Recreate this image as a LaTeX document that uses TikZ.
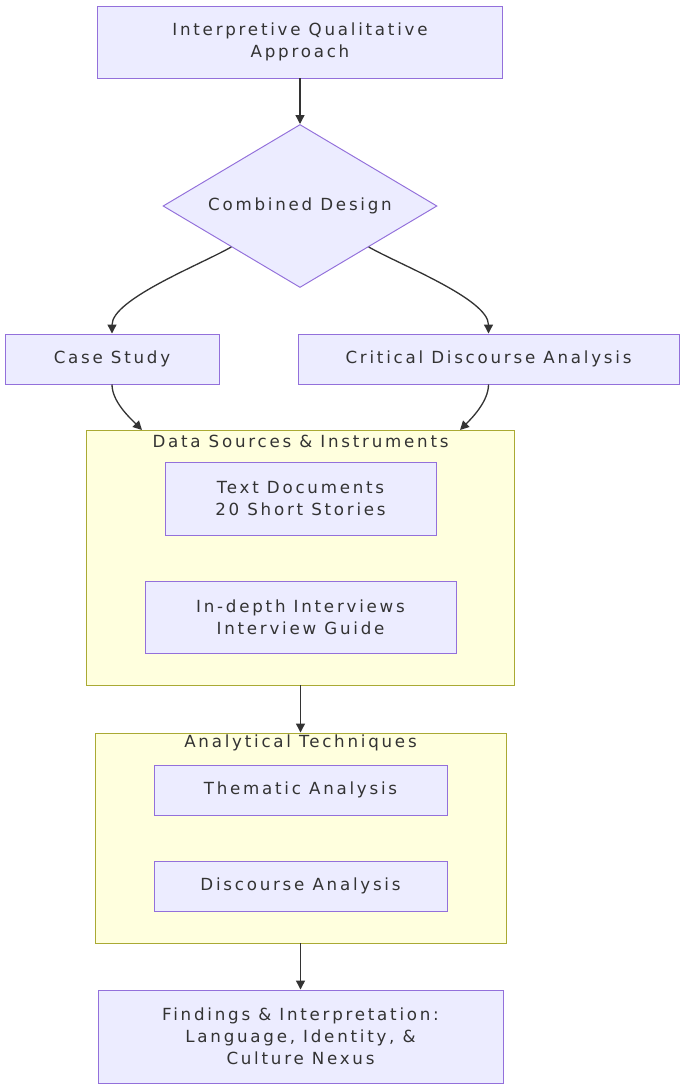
\documentclass[tikz,border=0pt]{standalone}
\usepackage{fontspec}
\setmainfont{DejaVu Sans}[LetterSpace=16.5]
\usetikzlibrary{arrows.meta,shapes.geometric}

\definecolor{nodefill}{HTML}{ECECFF}
\definecolor{nodeline}{HTML}{9370DB}
\definecolor{clusterfill}{HTML}{FFFFDE}
\definecolor{clusterline}{HTML}{AAAA33}
\definecolor{inktext}{HTML}{333333}

\begin{document}
\begin{tikzpicture}[
    font=\fontsize{19pt}{25pt}\selectfont,
    pbase/.style    = {line width=1.1pt, inner sep=0pt, text=inktext,
                       align=center},
    pnode/.style    = {pbase, rectangle, draw=nodeline, fill=nodefill},
    pdecision/.style= {pbase, diamond, aspect=1.68, draw=nodeline,
                       fill=nodefill, minimum width=10.96cm,
                       minimum height=6.52cm},
    pcluster/.style = {pbase, rectangle, draw=clusterline, fill=clusterfill},
    ptitle/.style   = {text=inktext, inner sep=0pt},
    arr/.style      = {-{Triangle[length=3.6mm,width=3.6mm]},
                       line width=1.5pt, draw=inktext},
  ]

  \useasboundingbox (0,0) rectangle (27.160cm,-43.360cm);

  \node[pnode, minimum width=16.20cm, minimum height=2.88cm] (approach)
    at (12.000cm, -1.680cm) {Interpretive Qualitative\\Approach};
  \node[pdecision] (design) at (12.000cm, -8.240cm) {Combined Design};
  \node[pnode, minimum width=8.56cm, minimum height=2.00cm] (case)
    at (4.480cm, -14.360cm) {Case Study};
  \node[pnode, minimum width=15.24cm, minimum height=2.00cm] (cda)
    at (19.540cm, -14.360cm) {Critical Discourse Analysis};

  % cluster: data sources
  \node[pcluster, minimum width=17.12cm, minimum height=10.20cm] (data)
    at (12.020cm, -22.300cm) {};
  \node[ptitle] (dataT) at (12.020cm, -17.640cm) {Data Sources \& Instruments};
  \node[pnode, minimum width=10.84cm, minimum height=2.92cm] (texts)
    at (12.020cm, -19.940cm) {Text Documents\\20 Short Stories};
  \node[pnode, minimum width=12.44cm, minimum height=2.88cm] (interviews)
    at (12.020cm, -24.680cm) {In-depth Interviews\\Interview Guide};

  % cluster: analytical techniques
  \node[pcluster, minimum width=16.44cm, minimum height=8.40cm] (tech)
    at (12.020cm, -33.520cm) {};
  \node[ptitle] (techT) at (12.020cm, -29.720cm) {Analytical Techniques};
  \node[pnode, minimum width=11.72cm, minimum height=2.00cm] (thematic)
    at (12.020cm, -31.600cm) {Thematic Analysis};
  \node[pnode, minimum width=11.72cm, minimum height=2.00cm] (discourse)
    at (12.020cm, -35.440cm) {Discourse Analysis};

  \node[pnode, minimum width=16.20cm, minimum height=3.72cm] (findings)
    at (12.020cm, -41.460cm)
    {Findings \& Interpretation:\\Language, Identity, \&\\Culture Nexus};

  \coordinate (dataL) at (5.680cm, -17.200cm);
  \coordinate (dataR) at (18.400cm, -17.200cm);

  \draw[arr] (design.south west) to[out=210, in=90, looseness=0.6] (case.north);
  \draw[arr] (design.south east) to[out=-30, in=90, looseness=0.6] (cda.north);
  \draw[arr] (approach) -- (design);
  \draw[arr] (case.south) to[out=-90, in=135, looseness=0.8] (dataL);
  \draw[arr] (cda.south) to[out=-90, in=45, looseness=0.8] (dataR);
  \draw[arr] (data.south) -- (tech.north);
  \draw[arr] (tech.south) -- (findings.north);

\end{tikzpicture}
\end{document}
